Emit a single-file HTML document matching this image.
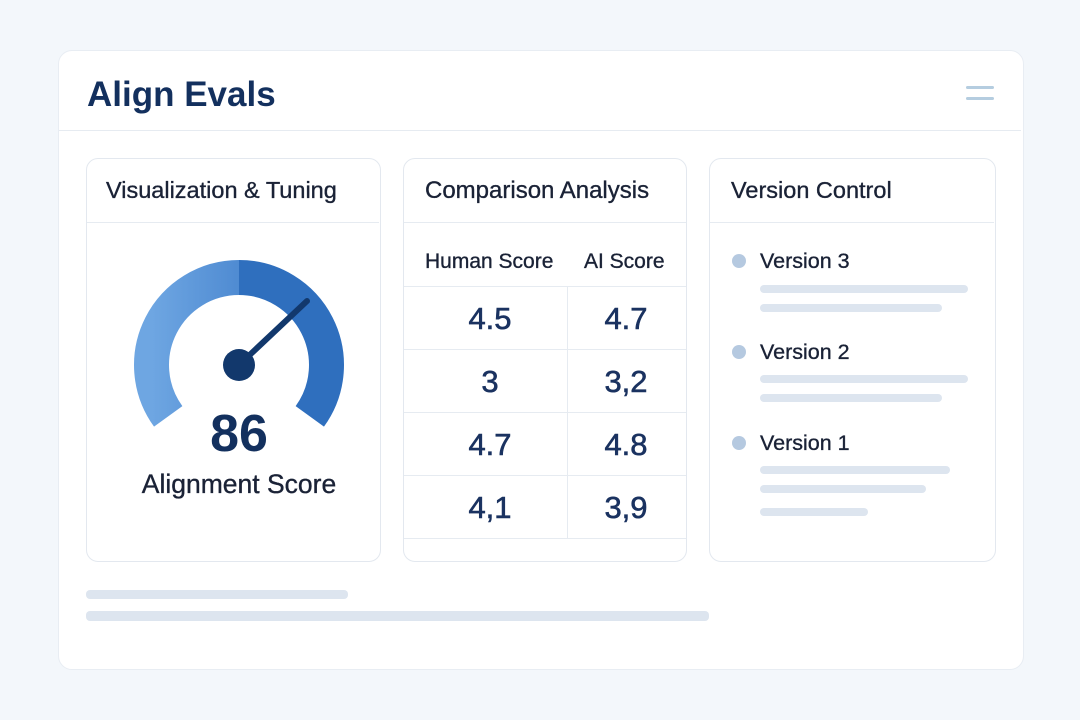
<!DOCTYPE html>
<html><head><style>
body{margin:0;width:1080px;height:720px;background:#f3f7fb;font-family:"Liberation Sans",sans-serif;position:relative;overflow:hidden}
.a{position:absolute}
.card{position:absolute;background:#fff;border:1px solid #e3e8ef;border-radius:12px}
.bar{position:absolute;height:8px;border-radius:4px;background:#dde5ef}
.t{position:absolute;white-space:nowrap;color:#1a2236;-webkit-text-stroke:0.35px #1a2236}
.hl{position:absolute;height:1px;background:#e6ebf1}
.v{position:absolute;font-size:31px;color:#1a3260;-webkit-text-stroke:0.6px #1a3260;width:120px;text-align:center;transform:translateY(-50%)}
</style></head><body>
<div class="card" style="left:58px;top:50px;width:964px;height:618px;border-radius:14px;border-color:#e8edf3"></div>
<div class="t" style="left:87px;top:75px;font-size:35px;font-weight:bold;color:#13305e;-webkit-text-stroke:0">Align Evals</div>
<div class="a" style="left:966px;top:86px;width:28px;height:3px;border-radius:2px;background:#b5cde0"></div>
<div class="a" style="left:966px;top:97px;width:28px;height:3px;border-radius:2px;background:#b5cde0"></div>
<div class="hl" style="left:59px;top:130px;width:962px"></div>

<div class="card" style="left:86px;top:158px;width:293px;height:402px"></div>
<div class="t" style="left:106px;top:177px;font-size:23.5px">Visualization &amp; Tuning</div>
<div class="hl" style="left:87px;top:222px;width:292px"></div>
<svg class="a" style="left:0;top:0" width="1080" height="720">
<defs><linearGradient id="g1" x1="0" x2="1"><stop offset="0" stop-color="#6ea6e2"/><stop offset="1" stop-color="#4f8bd2"/></linearGradient></defs>
<path d="M168.2,416.4 A87.5,87.5 0 0 1 239,277.5" fill="none" stroke="url(#g1)" stroke-width="35"/>
<path d="M239,277.5 A87.5,87.5 0 0 1 309.8,416.4" fill="none" stroke="#2f6fbe" stroke-width="35"/>
<line x1="239" y1="365" x2="307" y2="301" stroke="#12386c" stroke-width="6" stroke-linecap="round"/>
<circle cx="239" cy="365" r="16" fill="#12386c"/>
</svg>
<div class="t" style="left:139px;top:404px;width:200px;text-align:center;font-size:52px;font-weight:bold;color:#13305e;-webkit-text-stroke:0">86</div>
<div class="t" style="left:89px;top:469px;width:300px;text-align:center;font-size:26.5px">Alignment Score</div>

<div class="card" style="left:403px;top:158px;width:282px;height:402px"></div>
<div class="t" style="left:425px;top:177px;font-size:24px">Comparison Analysis</div>
<div class="hl" style="left:404px;top:222px;width:282px"></div>
<div class="t" style="left:425px;top:250px;font-size:21px">Human Score</div>
<div class="t" style="left:584px;top:250px;font-size:21px">AI Score</div>
<div class="hl" style="left:404px;top:286px;width:282px"></div>
<div class="hl" style="left:404px;top:349px;width:282px"></div>
<div class="hl" style="left:404px;top:412px;width:282px"></div>
<div class="hl" style="left:404px;top:475px;width:282px"></div>
<div class="hl" style="left:404px;top:538px;width:282px"></div>
<div class="a" style="left:567px;top:286px;width:1px;height:252px;background:#e6ebf1"></div>
<div class="v" style="left:430px;top:319px">4.5</div><div class="v" style="left:566px;top:319px">4.7</div>
<div class="v" style="left:430px;top:382px">3</div><div class="v" style="left:566px;top:382px">3,2</div>
<div class="v" style="left:430px;top:445px">4.7</div><div class="v" style="left:566px;top:445px">4.8</div>
<div class="v" style="left:430px;top:508px">4,1</div><div class="v" style="left:566px;top:508px">3,9</div>

<div class="card" style="left:709px;top:158px;width:285px;height:402px"></div>
<div class="t" style="left:731px;top:177px;font-size:23.5px">Version Control</div>
<div class="hl" style="left:710px;top:222px;width:284px"></div>
<div class="a" style="left:732px;top:254px;width:14px;height:14px;border-radius:50%;background:#b5c9e0"></div>
<div class="t" style="left:760px;top:249px;font-size:21.5px">Version 3</div>
<div class="bar" style="left:760px;top:285px;width:208px"></div>
<div class="bar" style="left:760px;top:304px;width:182px"></div>
<div class="a" style="left:732px;top:345px;width:14px;height:14px;border-radius:50%;background:#b5c9e0"></div>
<div class="t" style="left:760px;top:340px;font-size:21.5px">Version 2</div>
<div class="bar" style="left:760px;top:375px;width:208px"></div>
<div class="bar" style="left:760px;top:394px;width:182px"></div>
<div class="a" style="left:732px;top:436px;width:14px;height:14px;border-radius:50%;background:#b5c9e0"></div>
<div class="t" style="left:760px;top:431px;font-size:21.5px">Version 1</div>
<div class="bar" style="left:760px;top:466px;width:190px"></div>
<div class="bar" style="left:760px;top:485px;width:166px"></div>
<div class="bar" style="left:760px;top:508px;width:108px"></div>

<div class="bar" style="left:86px;top:590px;width:262px;height:9px"></div>
<div class="bar" style="left:86px;top:611px;width:623px;height:10px"></div>
</body></html>
